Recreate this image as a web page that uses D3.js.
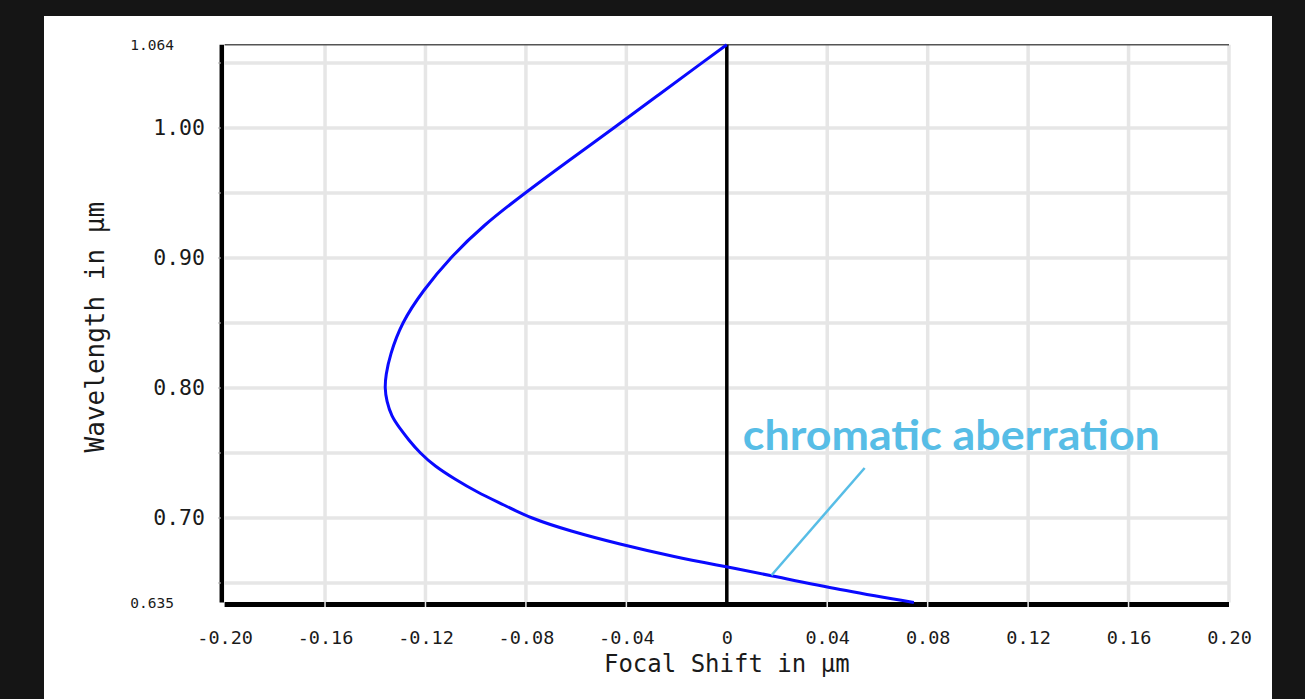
<!DOCTYPE html>
<html>
<head>
<meta charset="utf-8">
<script src="https://cdn.jsdelivr.net/npm/d3@7"></script>
<style>
  html, body { margin: 0; padding: 0; background: #151515; }
  #chart { width: 1305px; height: 699px; }
</style>
</head>
<body>
<div id="chart"></div>
<script>
// focal shift (um) against wavelength (um)
var wavelength = [1.064, 1.050, 1.025, 1.000, 0.975, 0.950, 0.925, 0.900, 0.875, 0.850,
                  0.825, 0.810, 0.800, 0.790, 0.778, 0.770, 0.760, 0.750, 0.740, 0.730,
                  0.720, 0.710, 0.700, 0.690, 0.680, 0.670, 0.6625, 0.655, 0.645, 0.635];
var focalShift = [0.000, -0.010, -0.0275, -0.045, -0.0629, -0.0804, -0.0971, -0.1103, -0.121, -0.1296,
                  -0.1342, -0.1358, -0.1362, -0.1355, -0.1335, -0.1306, -0.1267, -0.1222, -0.1164, -0.1084,
                  -0.0996, -0.0887, -0.0784, -0.0625, -0.043, -0.0207, 0.000, 0.0195, 0.0442, 0.0745];

var xTicks = [-0.20, -0.16, -0.12, -0.08, -0.04, 0, 0.04, 0.08, 0.12, 0.16, 0.20];
var xTickLabels = ["-0.20", "-0.16", "-0.12", "-0.08", "-0.04", "0", "0.04", "0.08", "0.12", "0.16", "0.20"];
var yTicks = [0.70, 0.80, 0.90, 1.00];
var yEndTicks = [0.635, 1.064];
var yGrid = [0.65, 0.70, 0.75, 0.80, 0.85, 0.90, 0.95, 1.00, 1.05];

var annotationText = "chromatic aberration";
var annotationAt = {shift: 0.0064, wl: 0.7523};
var leader = [{shift: 0.0549, wl: 0.7385}, {shift: 0.0178, wl: 0.656}];

ShiftChart = function(parentElement) {
    var vis = this;
    vis.parentElement = parentElement;
    vis.initVis();
}

ShiftChart.prototype.initVis = function() {
    var vis = this;

    vis.svg = d3.select("#" + vis.parentElement)
        .append("svg")
        .attr("width", 1305)
        .attr("height", 699);

    vis.svg.append("rect")
        .attr("width", 1305).attr("height", 699)
        .attr("fill", "#151515");
    vis.svg.append("rect")
        .attr("x", 44).attr("y", 16)
        .attr("width", 1228).attr("height", 683)
        .attr("fill", "#ffffff");

    vis.x = d3.scaleLinear().domain([-0.2, 0.2]).range([224.6, 1229]);
    vis.y = d3.scaleLinear().domain([0.635, 1.064]).range([602.5, 44.8]);

    vis.data = wavelength.map((w, i) => ({wl: w, shift: focalShift[i]}));
    vis.updateVis();
}

ShiftChart.prototype.updateVis = function() {
    var vis = this;
    var x = vis.x, y = vis.y;
    var top = y(1.064), bottom = y(0.635);

    // grid
    vis.svg.append("g").selectAll("line")
        .data(xTicks.slice(1))
        .enter().append("line")
        .attr("x1", d => x(d)).attr("x2", d => x(d))
        .attr("y1", top).attr("y2", bottom)
        .attr("stroke", "#e6e6e6").attr("stroke-width", 3.5);
    vis.svg.append("g").selectAll("line")
        .data(yGrid)
        .enter().append("line")
        .attr("x1", x(-0.2)).attr("x2", x(0.2))
        .attr("y1", d => y(d)).attr("y2", d => y(d))
        .attr("stroke", "#e6e6e6").attr("stroke-width", 3.5);

    // frame
    vis.svg.append("line")
        .attr("x1", x(-0.2)).attr("x2", x(0.2))
        .attr("y1", top).attr("y2", top)
        .attr("stroke", "#555").attr("stroke-width", 1.5);
    vis.svg.append("line")
        .attr("x1", x(-0.2)).attr("x2", x(0.2))
        .attr("y1", bottom + 2).attr("y2", bottom + 2)
        .attr("stroke", "#000").attr("stroke-width", 5);
    vis.svg.append("line")
        .attr("x1", x(-0.2) - 2.8).attr("x2", x(-0.2) - 2.8)
        .attr("y1", top).attr("y2", bottom)
        .attr("stroke", "#000").attr("stroke-width", 4.5);
    // light notches in the bottom bar where the grid meets it
    vis.svg.append("g").selectAll("line")
        .data(xTicks.slice(1, -1))
        .enter().append("line")
        .attr("x1", d => x(d)).attr("x2", d => x(d))
        .attr("y1", bottom - 1).attr("y2", bottom + 4.5)
        .attr("stroke", "#e6e6e6").attr("stroke-width", 1.5);
    vis.svg.append("line")
        .attr("x1", x(0)).attr("x2", x(0))
        .attr("y1", top).attr("y2", bottom + 4.5)
        .attr("stroke", "#000").attr("stroke-width", 3.5);

    // small y ticks
    vis.svg.append("g").selectAll("line")
        .data(yGrid)
        .enter().append("line")
        .attr("x1", x(-0.2) - 6).attr("x2", x(-0.2) - 4)
        .attr("y1", d => y(d)).attr("y2", d => y(d))
        .attr("stroke", "#999").attr("stroke-width", 2);

    // axes
    vis.xAxis = d3.axisBottom(x).tickValues(xTicks)
        .tickFormat((d, i) => xTickLabels[i]).tickSize(0).tickPadding(0);
    var gx = vis.svg.append("g")
        .attr("class", "x-axis")
        .attr("transform", "translate(0," + (bottom + 28) + ")")
        .call(vis.xAxis);
    gx.select(".domain").remove();
    gx.selectAll("text")
        .attr("font-family", "DejaVu Sans Mono").attr("font-size", 18.5)
        .attr("fill", "#1a1a1a");

    vis.yAxis = d3.axisLeft(y).tickValues(yTicks)
        .tickFormat(d3.format(".2f")).tickSize(0).tickPadding(0);
    var gy = vis.svg.append("g")
        .attr("class", "y-axis")
        .attr("transform", "translate(205,0)")
        .call(vis.yAxis);
    gy.select(".domain").remove();
    gy.selectAll("text")
        .attr("font-family", "DejaVu Sans Mono").attr("font-size", 21.5)
        .attr("fill", "#1a1a1a");

    var gy2 = vis.svg.append("g")
        .attr("transform", "translate(174,0)")
        .call(d3.axisLeft(y).tickValues(yEndTicks).tickFormat(d3.format(".3f")).tickSize(0).tickPadding(0));
    gy2.select(".domain").remove();
    gy2.selectAll("text")
        .attr("font-family", "DejaVu Sans Mono").attr("font-size", 14.5)
        .attr("fill", "#1a1a1a");

    // axis titles
    vis.svg.append("text")
        .attr("x", x(0)).attr("y", 672)
        .attr("text-anchor", "middle")
        .attr("font-family", "DejaVu Sans Mono").attr("font-size", 24)
        .attr("fill", "#1a1a1a")
        .text("Focal Shift in μm");
    vis.svg.append("text")
        .attr("transform", "translate(104," + y(0.8468) + ") rotate(-90)")
        .attr("text-anchor", "middle")
        .attr("font-family", "DejaVu Sans Mono").attr("font-size", 26)
        .attr("fill", "#1a1a1a")
        .text("Wavelength in μm");

    // curve
    var line = d3.line()
        .x(d => x(d.shift))
        .y(d => y(d.wl))
        .curve(d3.curveBasis);
    vis.svg.append("path")
        .datum(vis.data)
        .attr("d", line)
        .attr("fill", "none")
        .attr("stroke", "#0a0aff")
        .attr("stroke-width", 3);

    // annotation
    vis.svg.append("line")
        .attr("x1", x(leader[0].shift)).attr("y1", y(leader[0].wl))
        .attr("x2", x(leader[1].shift)).attr("y2", y(leader[1].wl))
        .attr("stroke", "#57bde6").attr("stroke-width", 2.5);
    vis.svg.append("text")
        .attr("x", x(annotationAt.shift)).attr("y", y(annotationAt.wl))
        .attr("font-family", "Lato").attr("font-weight", "bold").attr("font-size", 42)
        .attr("textLength", 417).attr("lengthAdjust", "spacingAndGlyphs")
        .attr("fill", "#57bde6")
        .text(annotationText);
}

var chart = new ShiftChart("chart");
</script>
</body>
</html>
